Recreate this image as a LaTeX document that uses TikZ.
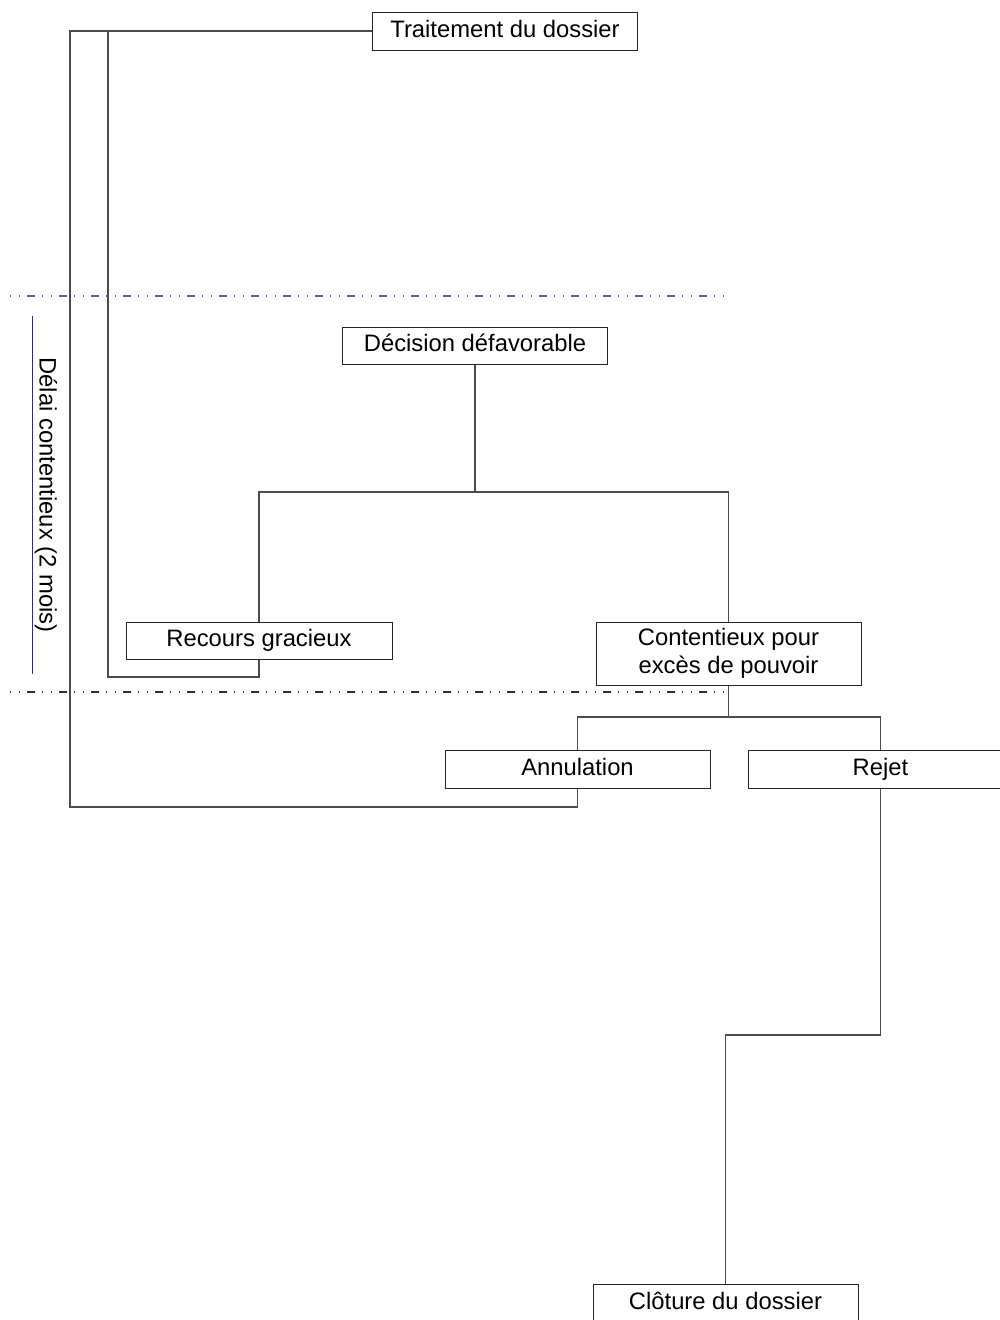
\documentclass[tikz,border=0pt]{standalone}
\usepackage{fontspec}
\setmainfont{Liberation Sans}
\begin{document}
\begin{tikzpicture}[x=1pt,y=-1pt,
  box/.style={draw=black!85,line width=1pt,fill=white,minimum width=265pt,minimum height=38pt,inner sep=0pt,align=center,font=\fontsize{23.8}{27.5}\selectfont},
  onebox/.style={box,text height=17pt,text depth=5pt},
  conn/.style={draw=black!70,line width=1.2pt},
  sep/.style={line width=1.2pt,dash pattern=on 1pt off 8pt on 1pt off 7pt on 8pt off 7pt},
  lbl/.style={font=\fontsize{23.8}{27.5}\selectfont,inner sep=0pt}]
\useasboundingbox (0,0) rectangle (1000,1320);
\definecolor{sepblue}{RGB}{90,90,175}
\definecolor{lineblue}{RGB}{40,40,165}
% separators
\coordinate (s1a) at (10,296); \coordinate (s1b) at (728,296);
\coordinate (s2a) at (10,692); \coordinate (s2b) at (726,692);
\draw[sep,sepblue] (s1a) -- (s1b);
\draw[sep,black!80] (s2a) -- (s2b);
\coordinate (ba) at (32,316); \coordinate (bb) at (32,674);
\draw[lineblue,line width=1pt] (ba) -- (bb);
\node[lbl,rotate=-90] (delai) at (46,495) {Délai contentieux (2 mois)};
% nodes
\node[onebox] (trt) at (505,31) {Traitement du dossier};
\node[onebox,minimum height=37pt] (dec) at (475,345.5) {Décision défavorable};
\node[onebox,minimum width=266pt,minimum height=37pt] (rec) at (259,640.5) {Recours gracieux};
\node[box,minimum height=63pt] (cont) at (728.5,653.5) {Contentieux pour\\excès de pouvoir};
\node[onebox] (ann) at (577.5,769) {Annulation};
\node[onebox] (rej) at (880.5,769) {Rejet};
\node[onebox] (clo) at (725.5,1303) {Clôture du dossier};
% junctions
\coordinate (j1) at (475,492);
\coordinate (j2) at (728.5,717);
\coordinate (r1) at (259,677);
\coordinate (r2) at (108,31);
\coordinate (a1) at (577.5,807);
\coordinate (a2) at (70,31);
\coordinate (k1) at (880.5,1035);
% connectors
\draw[conn] (dec.south) -- (j1) -| (rec.north);
\draw[conn] (j1) -| (cont.north);
\draw[conn] (cont.south) -- (j2) -| (ann.north);
\draw[conn] (j2) -| (rej.north);
\draw[conn] (rej.south) -- (k1) -| (clo.north);
\draw[conn] (rec.south) -- (r1) -| (r2) -- (trt.west);
\draw[conn] (ann.south) -- (a1) -| (a2) -- (r2);
\end{tikzpicture}
\end{document}
